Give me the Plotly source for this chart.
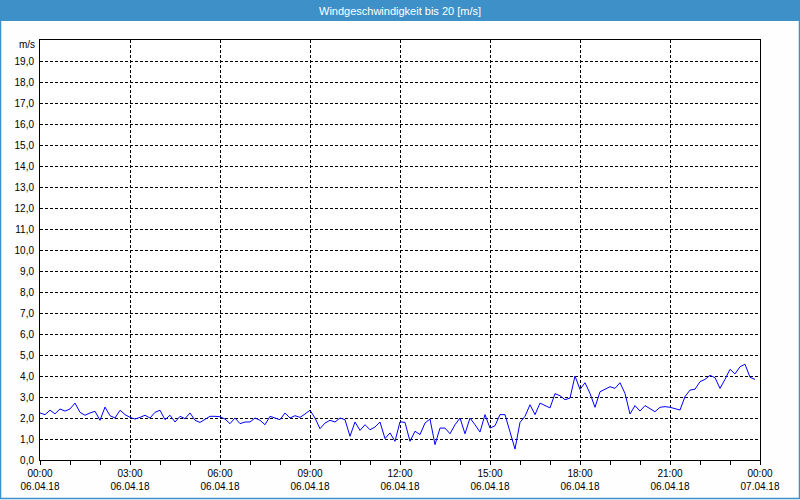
import pandas as pd
import plotly.graph_objects as go

# Wind speed, 10-minute values from 06.04.18 00:00 to 23:50
speed_00_06 = [2.24, 2.16, 2.37, 2.20, 2.43, 2.33, 2.43, 2.71, 2.27, 2.13, 2.24, 2.32,
               1.89, 2.52, 2.11, 2.00, 2.37, 2.16, 2.03, 1.95, 2.03, 2.13, 2.00, 2.27,
               2.37, 1.92, 2.13, 1.81, 2.08, 1.97, 2.24, 1.89, 1.79, 1.95, 2.08, 2.08, 2.06]
speed_06_12 = [1.95, 1.73, 2.00, 1.73, 1.81, 1.81, 2.00, 1.89, 1.68, 2.08, 2.00, 1.92,
               2.24, 2.00, 2.11, 2.03, 2.19, 2.37, 2.00, 1.49, 1.76, 1.89, 1.81, 2.00,
               1.92, 1.13, 1.81, 1.41, 1.68, 1.44, 1.57, 1.81, 1.02, 1.29, 0.89, 1.82]
speed_12_18 = [1.79, 0.89, 1.37, 1.21, 1.76, 1.95, 0.73, 1.52, 1.52, 1.25, 1.68, 2.00,
               1.25, 2.00, 1.68, 1.33, 2.16, 1.52, 1.63, 2.16, 2.16, 1.29, 0.52, 1.79,
               2.08, 2.63, 2.16, 2.71, 2.59, 2.48, 3.16, 3.06, 2.87, 2.95, 4.00, 3.36]
speed_18_24 = [3.68, 3.17, 2.51, 3.25, 3.37, 3.49, 3.41, 3.68, 3.17, 2.19, 2.59, 2.33,
               2.59, 2.43, 2.30, 2.51, 2.54, 2.51, 2.43, 2.38, 3.02, 3.33, 3.37, 3.73,
               3.84, 4.03, 3.92, 3.41, 3.84, 4.32, 4.10, 4.44, 4.56, 3.94, 3.84]

speed = speed_00_06 + speed_06_12 + speed_12_18 + speed_18_24
times = pd.date_range("2018-04-06 00:00", periods=len(speed), freq="10min")

tick_times = pd.date_range("2018-04-06 00:00", "2018-04-07 00:00", freq="3h")
tick_labels = [t.strftime("%H:%M") + "<br>" + t.strftime("%d.%m.%y") for t in tick_times]
y_ticks = list(range(0, 20))
y_labels = [f"{v},0" for v in y_ticks]

title_text = "Windgeschwindigkeit bis 20 [m/s]"
unit_text = "m/s"

W, H = 800, 500
L, R, T, B = 40, 40, 40, 40
pw, ph = W - L - R, H - T - B


def px_x(p):
    return (p - L) / pw


def px_y(p):
    return (H - B - p) / ph


FONT = "Liberation Sans, Arial, sans-serif"

fig = go.Figure()
fig.add_trace(go.Scatter(x=times, y=speed, mode="lines",
                         line=dict(color="#0000ff", width=1), hoverinfo="skip",
                         showlegend=False))

fig.update_layout(
    width=W, height=H,
    margin=dict(l=L, r=R, t=T, b=B),
    paper_bgcolor="#fdfefd",
    plot_bgcolor="#ffffff",
    font=dict(family=FONT, size=10, color="#000000"),
    xaxis=dict(
        type="date", automargin=False,
        range=[tick_times[0], tick_times[-1]],
        tickmode="array", tickvals=list(tick_times), ticktext=tick_labels,
        ticks="outside", ticklen=4, tickcolor="#000000",
        minor=dict(dtick=3600000, ticks="outside", ticklen=4, tickcolor="#000000",
                   showgrid=False),
        showgrid=True, gridcolor="#000000", gridwidth=1, griddash="3px,2px",
        showline=True, linecolor="#000000", linewidth=1, mirror=True,
        zeroline=False, tickfont=dict(size=10, color="#000000"),
    ),
    yaxis=dict(
        range=[0, 20], automargin=False,
        tickmode="array", tickvals=y_ticks, ticktext=y_labels,
        ticks="", ticklabelstandoff=3,
        showgrid=True, gridcolor="#000000", gridwidth=1, griddash="3px,2px",
        showline=True, linecolor="#000000", linewidth=1, mirror=True,
        zeroline=False, tickfont=dict(size=10, color="#000000"),
    ),
    shapes=[
        dict(type="rect", xref="paper", yref="paper",
             x0=px_x(0), x1=px_x(W), y0=px_y(21), y1=px_y(0),
             fillcolor="#3d91c8", line=dict(width=0), layer="above"),
        dict(type="rect", xref="paper", yref="paper",
             x0=px_x(0.5), x1=px_x(W - 0.5), y0=px_y(H - 1.5), y1=px_y(0),
             fillcolor="rgba(0,0,0,0)", line=dict(color="#3d91c8", width=1.5),
             layer="above"),
    ],
    annotations=[
        dict(text=title_text, xref="paper", yref="paper", x=0.5, y=px_y(10.5),
             xanchor="center", yanchor="middle", showarrow=False,
             font=dict(family=FONT, size=11, color="#ffffff")),
        dict(text=unit_text, xref="paper", yref="paper", x=px_x(37), y=px_y(45),
             xanchor="right", yanchor="middle", showarrow=False,
             font=dict(family=FONT, size=10, color="#000000")),
    ],
)

fig.write_html("out.html")
